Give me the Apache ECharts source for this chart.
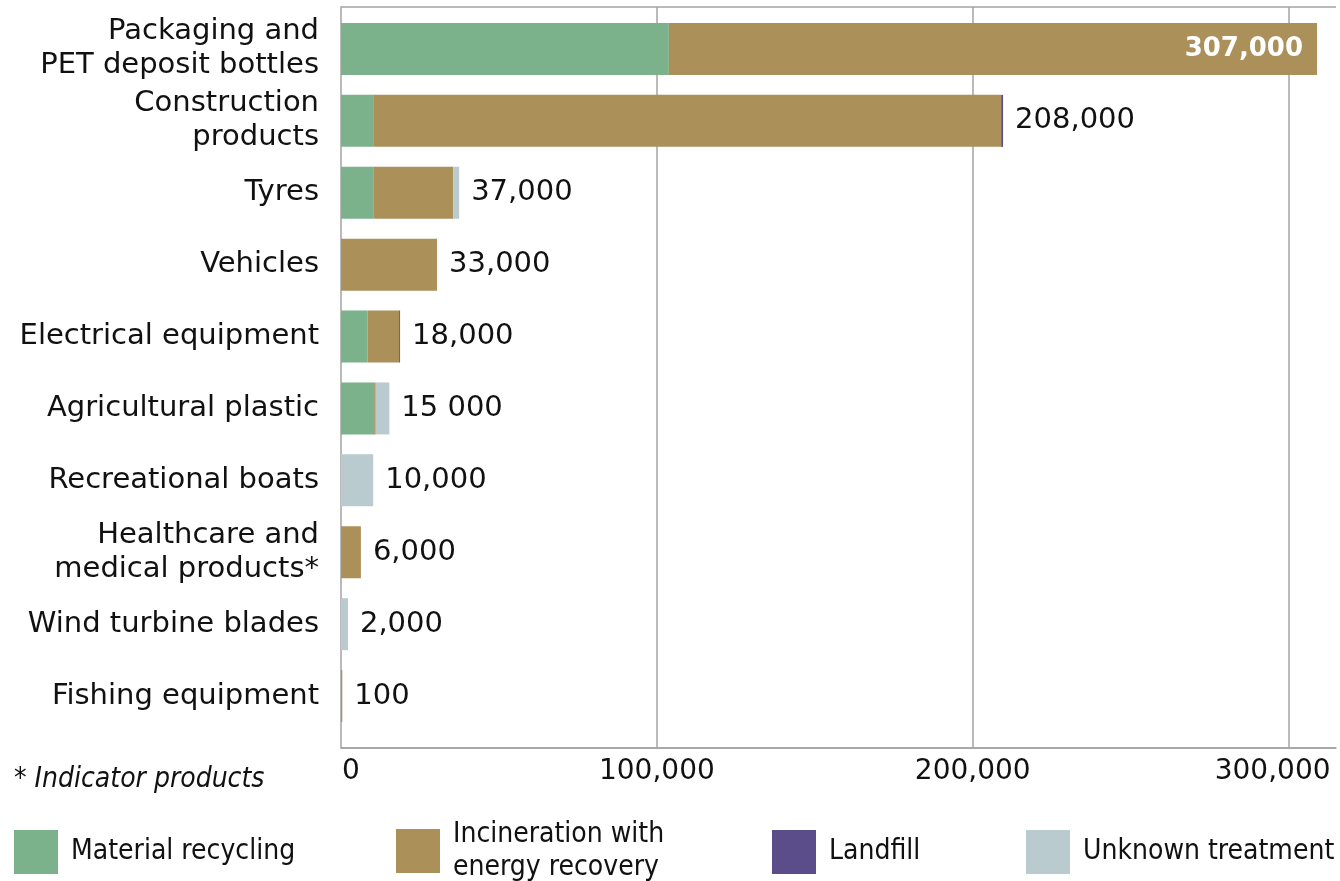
<!DOCTYPE html>
<html><head><meta charset="utf-8">
<script src="https://cdn.jsdelivr.net/npm/echarts@6/dist/echarts.min.js"></script>
<style>html,body{margin:0;padding:0;background:#fff}#c{width:1340px;height:881px}</style>
</head><body><div id="c"></div>
<script>
const categories = ['Packaging and\nPET deposit bottles', 'Construction\nproducts', 'Tyres', 'Vehicles', 'Electrical equipment', 'Agricultural plastic', 'Recreational boats', 'Healthcare and\nmedical products*', 'Wind turbine blades', 'Fishing equipment'];
const recycling    = [103800, 10200, 10400,     0,  8400, 10500,     0,    0,    0,   0];
const incineration = [205200, 198800, 25100, 30400, 10000,   500,     0, 6300,    0, 400];
const landfill     = [     0,   600,     0,     0,   300,     0,     0,    0,    0,   0];
const unknown      = [     0,     0,  1900,     0,     0,  4300, 10200,    0, 2200,   0];
const totalLabels  = ['307,000', '208,000', '37,000', '33,000', '18,000', '15 000', '10,000', '6,000', '2,000', '100'];
const xTicks = [0, 100000, 200000, 300000];
const seriesNames = ['Material recycling', 'Incineration with energy recovery', 'Landfill', 'Unknown treatment'];
const seriesColors = ['#7BB28C', '#AB905A', '#5B4C8A', '#B9CBCE'];

const totals = categories.map((_, i) => recycling[i] + incineration[i] + landfill[i] + unknown[i]);
const FONT = 'DejaVu Sans';
const COND = 'DejaVu Sans Condensed';
const GRAY = '#a3a3a3';
const TXT = '#111111';

const chart = echarts.init(document.getElementById('c'));
const barData = [recycling, incineration, landfill, unknown];
const bars = seriesNames.map((n, k) => ({
  name: n, type: 'bar', stack: 'total', xAxisIndex: 1, yAxisIndex: 1,
  barWidth: 52, data: barData[k], itemStyle: { color: seriesColors[k] }, silent: true
}));
const legendLefts = [14, 396, 772, 1026];
const legendTops = [830, 818, 830, 830];
const legends = seriesNames.map((n, k) => ({
  data: [n], left: legendLefts[k], top: legendTops[k], orient: 'horizontal', icon: 'rect',
  itemWidth: 44, itemHeight: 44, padding: 0, selectedMode: false,
  formatter: nm => nm === 'Incineration with energy recovery' ? 'Incineration with\nenergy recovery' : nm,
  textStyle: { fontFamily: COND, fontSize: 28, lineHeight: 33, color: TXT, padding: [0, 0, 0, 8] }
}));

const option = {
  animation: false,
  title: { text: '* Indicator products', left: 14, top: 766, padding: 0,
    textStyle: { fontFamily: COND, fontStyle: 'italic', fontWeight: 'normal', fontSize: 28, color: TXT } },
  legend: legends,
  grid: [
    { left: 341, right: 4, top: 7, bottom: 133 },
    { left: 341, right: 4, top: 13, bottom: 149 }
  ],
  xAxis: [
    { gridIndex: 0, type: 'value', min: 0, max: 315000, interval: 100000,
      axisLine: { show: true, lineStyle: { color: GRAY, width: 1.5 } },
      axisTick: { show: false },
      splitLine: { show: true, showMinLine: false, showMaxLine: false, lineStyle: { color: GRAY, width: 1.5 } },
      axisLabel: { customValues: xTicks, margin: 10, fontFamily: FONT, fontSize: 28, color: TXT,
        formatter: v => v === 300000 ? '{r|300,000}' : (v === 0 ? '{l|0}' : v.toLocaleString('en-US')),
        rich: { r: { fontFamily: FONT, fontSize: 28, color: TXT, padding: [0, 32, 0, 0] },
                l: { fontFamily: FONT, fontSize: 28, color: TXT, padding: [0, 0, 0, 20] } } } },
    { gridIndex: 1, type: 'value', min: 0, max: 315000, show: false }
  ],
  yAxis: [
    { gridIndex: 0, type: 'value', min: 0, max: 1, interval: 1,
      axisLine: { show: true, lineStyle: { color: GRAY, width: 1.5 } },
      axisTick: { show: false }, axisLabel: { show: false },
      splitLine: { show: true, lineStyle: { color: GRAY, width: 1.5 } } },
    { gridIndex: 1, type: 'category', inverse: true, data: categories,
      axisLine: { show: false }, axisTick: { show: false },
      axisLabel: { fontFamily: FONT, fontSize: 29, lineHeight: 34, color: TXT, margin: 22, align: 'right' } }
  ],
  series: bars.concat([{
    type: 'scatter', xAxisIndex: 1, yAxisIndex: 1, symbol: 'rect', symbolSize: 0, silent: true,
    itemStyle: { color: '#000', opacity: 1 },
    data: totals.map((t, i) => i === 0
      ? { value: [t, i], label: { position: 'left', distance: 14, color: '#ffffff', fontWeight: 'bold', fontSize: 26, opacity: 1 } }
      : { value: [t, i], label: { color: TXT, opacity: 1 } }),
    label: { show: true, position: 'right', distance: 12, fontFamily: FONT, fontSize: 29, color: TXT, opacity: 1,
      formatter: p => totalLabels[p.dataIndex] }
  }])
};
chart.setOption(option);
</script></body></html>
